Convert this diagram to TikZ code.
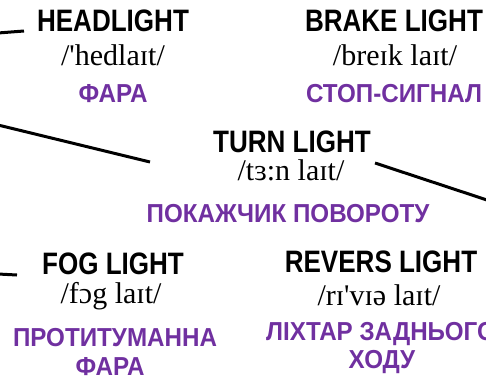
\documentclass[tikz,border=0pt]{standalone}
\usepackage{fontspec}
\usetikzlibrary{calc}
\setmainfont{Liberation Serif}
\newfontfamily\headfont[FakeStretch=0.84]{Liberation Sans}
\newfontfamily\uafont[FakeStretch=0.93]{Liberation Sans}
\definecolor{uapurple}{HTML}{7030A0}
\begin{document}
\begin{tikzpicture}[x=1pt,y=-1pt,
  term/.style={anchor=base,inner sep=0pt,font=\headfont\fontsize{31}{33}\selectfont\bfseries},
  ipa/.style={anchor=base,inner sep=0pt,font=\fontsize{30}{32}\selectfont},
  transl/.style={anchor=base,inner sep=0pt,text=uapurple,font=\uafont\fontsize{26}{28}\selectfont\bfseries},
  pointer/.style={line width=3pt}]
\useasboundingbox (0,0) rectangle (486,383);
\clip (0,0) rectangle (486,383);

% headlight
\node[term]   (hl)  at (113,31)  {HEADLIGHT};
\node[ipa]    (hlp) at (113,65)  {/\textquotesingle hedlaɪt/};
\node[transl] (hlu) at (113,102) {ФАРА};

% brake light
\node[term]   (bl)  at (394,31)  {BRAKE LIGHT};
\node[ipa]    (blp) at (395,65)  {/breɪk laɪt/};
\node[transl] (blu) at (394,102) {СТОП-СИГНАЛ};

% turn light
\node[term]   (tl)  at (292,152) {TURN LIGHT};
\node[ipa]    (tlp) at (291,180) {/tɜ:n laɪt/};
\node[transl] (tlu) at (288,222) {ПОКАЖЧИК ПОВОРОТУ};

% fog light
\node[term]   (fl)  at (113,274) {FOG LIGHT};
\node[ipa]    (flp) at (111,303) {/fɔg laɪt/};
\node[transl] (flu) at (115,346) {ПРОТИТУМАННА};
\node[transl] (flv) at (110,375) {ФАРА};

% reverse light
\node[term]   (rl)  at (381,272) {REVERS LIGHT};
\node[ipa]    (rlp) at (379,305) {/rɪ\textquotesingle vɪə laɪt/};
\node[transl] (rlu) at (381,340) {ЛІХТАР ЗАДНЬОГО};
\node[transl] (rlv) at (382,368) {ХОДУ};

% pointer lines
\coordinate (hlend) at (-2,33);
\coordinate (tlin)  at (-2,125);
\coordinate (tlout) at (490,201);
\coordinate (flend) at (-2,274);
\draw[pointer] (hlend) -- ($(hl.base)+(-89,0)$);
\draw[pointer] (tlin) -- ($(tl.base)+(-142,10)$);
\draw[pointer] (tlout) -- ($(tl.base)+(83,11)$);
\draw[pointer] (flend) -- ($(fl.base)+(-96,1)$);
\end{tikzpicture}
\end{document}
